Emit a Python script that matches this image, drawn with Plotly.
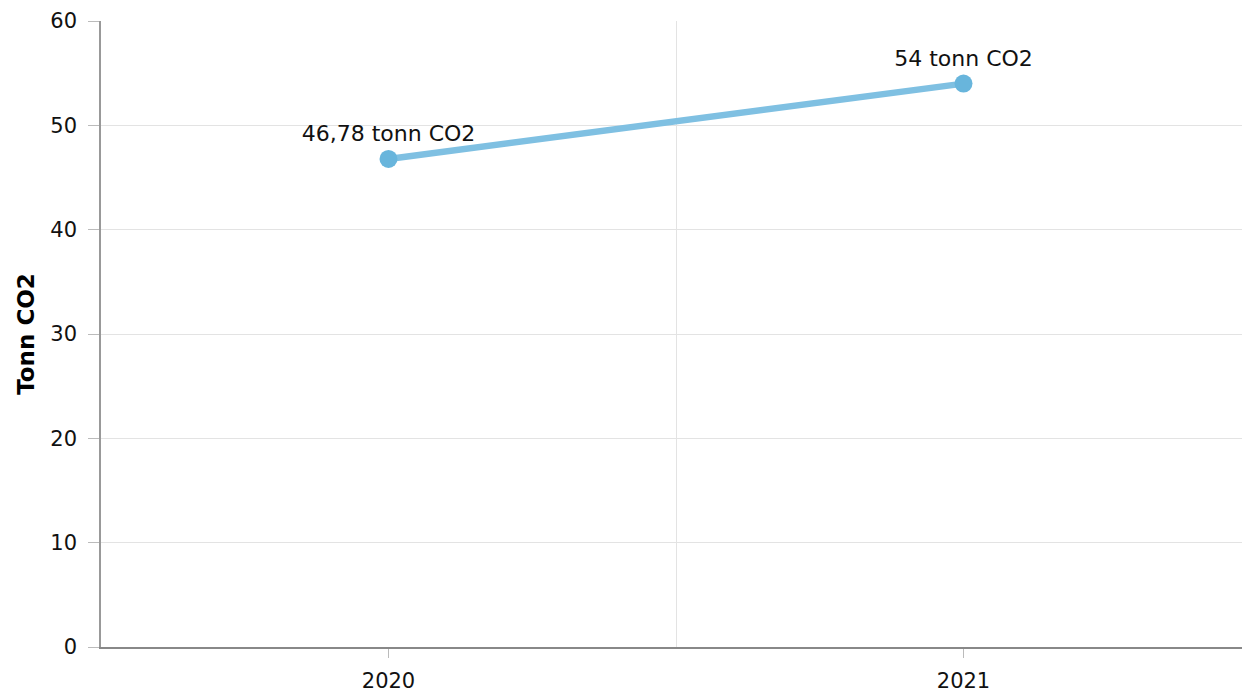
import plotly.graph_objects as go

years = ["2020", "2021"]
values = [46.78, 54]
labels = ["46,78 tonn CO2", "54 tonn CO2"]
y_ticks = [0, 10, 20, 30, 40, 50, 60]

x_pos = list(range(len(years)))

fig = go.Figure()
fig.add_trace(go.Scatter(
    x=x_pos, y=values, mode="lines+markers+text",
    text=labels, textposition="top center",
    textfont=dict(family="DejaVu Sans", size=22, color="#111"),
    line=dict(color="#7fc0e2", width=6.5),
    marker=dict(color="#68b5dc", size=18),
    hoverinfo="skip", showlegend=False, cliponaxis=False,
))

fig.update_layout(
    width=1251, height=693,
    margin=dict(l=101, r=0, t=21, b=46, autoexpand=False),
    plot_bgcolor="white", paper_bgcolor="white",
    font=dict(family="DejaVu Sans", size=21, color="#111"),
)
fig.update_xaxes(
    range=[-0.5, len(years) - 0.5],
    tickvals=x_pos, ticktext=years,
    showgrid=False, zeroline=False, automargin=False,
    showline=True, linecolor="#888", linewidth=1.5,
    ticks="outside", ticklen=9, tickcolor="#bbb", tickwidth=1,
    ticklabelstandoff=5,
    minor=dict(tickvals=[i + 0.5 for i in x_pos[:-1]], showgrid=True,
               gridcolor="#e3e3e3", gridwidth=1, ticks=""),
    tickfont=dict(size=21),
)
fig.update_yaxes(
    range=[0, 60], tickvals=y_ticks,
    showgrid=True, gridcolor="#e3e3e3", gridwidth=1,
    zeroline=False, automargin=False,
    showline=True, linecolor="#999", linewidth=1.5,
    ticks="outside", ticklen=11, tickcolor="#bbb", tickwidth=1,
    ticklabelstandoff=7,
    tickfont=dict(size=21),
    title=dict(text="<b>Tonn CO2</b>", font=dict(size=23, color="#000"), standoff=9),
)

fig.write_html("out.html", config={"displayModeBar": False},
               post_script="document.body.style.margin='0';document.body.style.overflow='hidden';")
